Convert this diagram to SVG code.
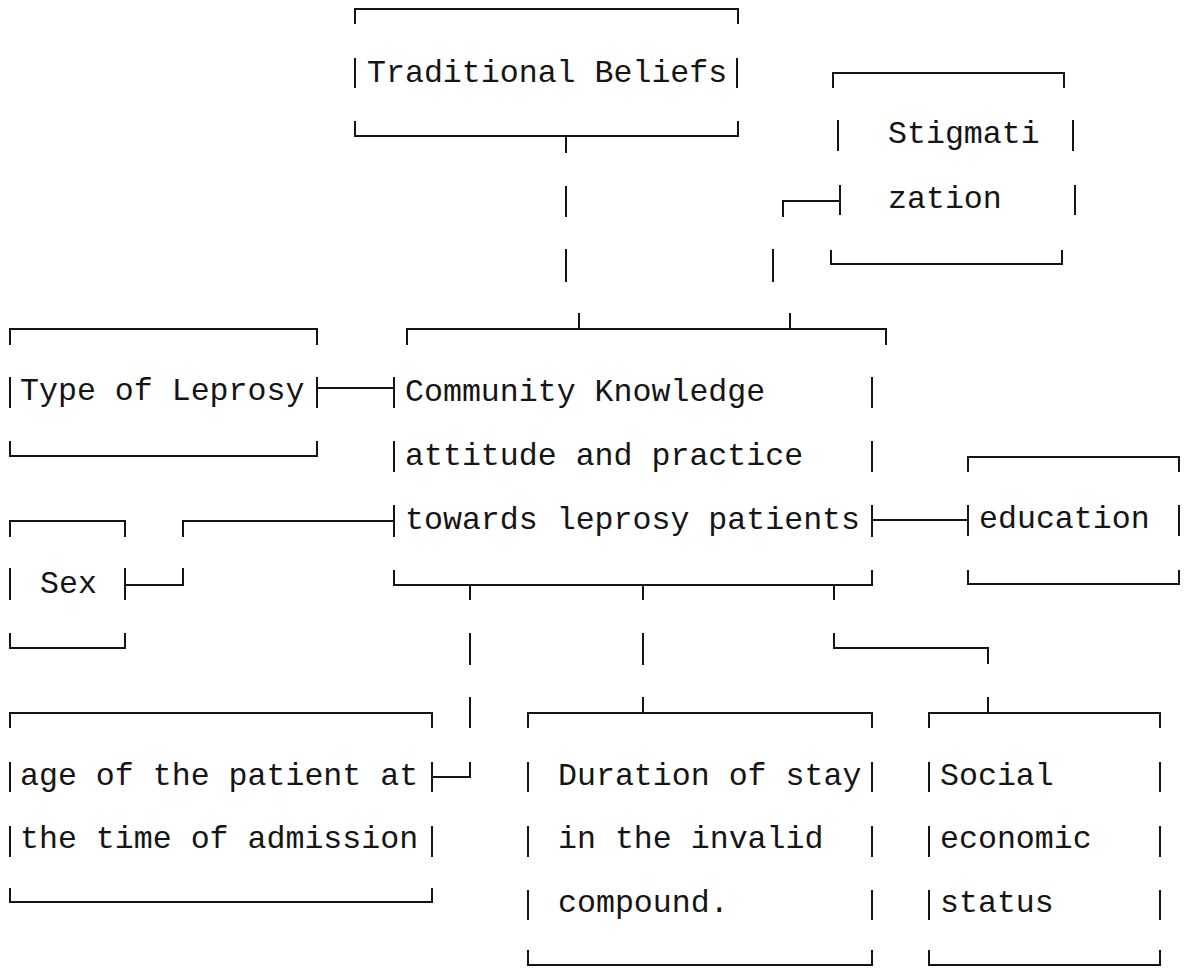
<svg xmlns="http://www.w3.org/2000/svg" width="1188" height="969" viewBox="0 0 1188 969">
<style>
.l{fill:none;stroke:#151515;stroke-width:2;stroke-linecap:butt;stroke-linejoin:miter}
.t{font-family:"Liberation Mono","DejaVu Sans Mono",monospace;font-size:31.6px;fill:#151515}
</style>
<rect width="1188" height="969" fill="#ffffff"/>
<g id="traditional-beliefs">
<path class="l" d="M355,24 V9 H738 V24 M355,58 V88 M737,58 V88 M355,121 V136 H738 V121"/>
<text class="t" x="367" y="82">Traditional Beliefs</text>
</g>
<g id="stigmatization">
<path class="l" d="M833,88 V73 H1064 V88 M838,120 V151 M1073,120 V151 M840,185 V215 M1075,185 V215 M831,250 V264 H1062 V250"/>
<text class="t" x="888" y="143">Stigmati</text>
<text class="t" x="888" y="208">zation</text>
</g>
<g id="type-of-leprosy">
<path class="l" d="M10,345 V329 H317 V345 M10,377 V408 M317,377 V408 M10,441 V456 H317 V441"/>
<text class="t" x="20" y="400">Type of Leprosy</text>
</g>
<g id="community-kap">
<path class="l" d="M407,345 V329 H886 V345 M394,377 V408 M872,377 V408 M394,441 V472 M872,441 V472 M394,505 V537 M872,505 V537 M394,570 V585 H872 V570"/>
<text class="t" x="405" y="401">Community Knowledge</text>
<text class="t" x="405" y="465">attitude and practice</text>
<text class="t" x="405" y="529">towards leprosy patients</text>
</g>
<g id="sex">
<path class="l" d="M10,537 V521 H125 V537 M10,568 V600 M125,568 V600 M10,633 V648 H125 V633"/>
<text class="t" x="40" y="593">Sex</text>
</g>
<g id="education">
<path class="l" d="M968,472 V457 H1179 V472 M968,505 V536 M1179,505 V536 M968,570 V584 H1179 V570"/>
<text class="t" x="979" y="528">education</text>
</g>
<g id="age-at-admission">
<path class="l" d="M10,728 V713 H432 V728 M10,762 V792 M432,762 V792 M10,826 V857 M432,826 V857 M10,888 V902 H432 V888"/>
<text class="t" x="20" y="785">age of the patient at</text>
<text class="t" x="20" y="848">the time of admission</text>
</g>
<g id="duration-of-stay">
<path class="l" d="M528,728 V713 H872 V728 M528,762 V792 M872,762 V792 M528,826 V857 M872,826 V857 M528,890 V920 M872,890 V920 M528,950 V965 H872 V950"/>
<text class="t" x="558" y="785">Duration of stay</text>
<text class="t" x="558" y="848">in the invalid</text>
<text class="t" x="558" y="912">compound.</text>
</g>
<g id="social-economic-status">
<path class="l" d="M929,728 V713 H1160 V728 M929,762 V792 M1160,762 V792 M929,826 V857 M1160,826 V857 M929,890 V920 M1160,890 V920 M929,950 V965 H1160 V950"/>
<text class="t" x="940" y="785">Social</text>
<text class="t" x="940" y="848">economic</text>
<text class="t" x="940" y="912">status</text>
</g>
<g id="connectors">
<path class="l" d="M566,136 V153 M566,186 V217 M566,249 V282 M579,313 V329"/>
<path class="l" d="M840,201 H783 V217 M773,249 V282 M790,313 V329"/>
<path class="l" d="M317,388 H394"/>
<path class="l" d="M125,585 H183 V568 M183,537 V521 H394"/>
<path class="l" d="M872,520 H968"/>
<path class="l" d="M470,585 V600 M470,633 V665 M470,697 V728 M470,762 V777 H432"/>
<path class="l" d="M643,585 V600 M643,633 V665 M643,697 V713"/>
<path class="l" d="M834,585 V600 M834,633 V648 H988 V664 M988,697 V713"/>
</g>
</svg>
